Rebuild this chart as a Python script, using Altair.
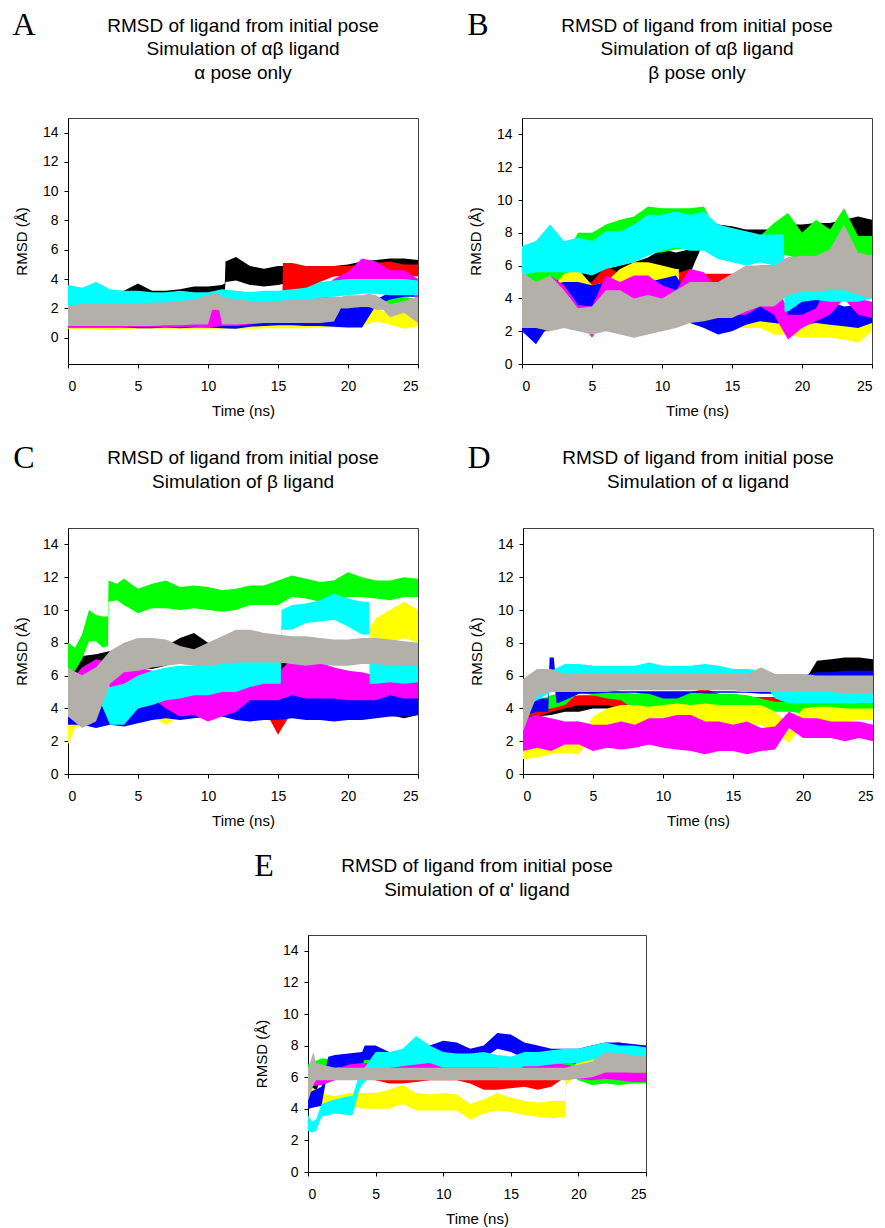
import altair as alt
import pandas as pd

TIME = [0, 1, 2, 3, 4, 5, 6, 7, 8, 9, 10, 11, 12, 13, 14, 15, 16, 17, 18, 19, 20, 21, 22, 23, 24, 25]
X_TICKS = [0, 5, 10, 15, 20, 25]
Y_TICKS = [0, 2, 4, 6, 8, 10, 12, 14]
ORDER = ["black", "red", "green", "yellow", "blue", "magenta", "cyan", "gray"]
COLORS = {"black": "#000000", "red": "#FF0000", "green": "#00FF00", "yellow": "#FFFF00",
          "blue": "#0000FF", "magenta": "#FF00FF", "cyan": "#00FFFF", "gray": "#B2B0A8"}
FONT = "Liberation Sans"

# ---------------- Panel A : lower / upper envelope of each trajectory ----------------
A_black_t = [0, 1, 2, 3, 4, 5, 6, 7, 8, 9, 10, 11, 11.2, 11.25, 12, 13, 14, 15, 16, 17, 18, 19, 20, 21, 22, 23, 24, 25]
A_black_lo = [2.6, 2.6, 2.6, 2.7, 2.8, 2.9, 2.9, 2.9, 2.9, 3.0, 3.0, 3.1, 3.2, 3.8, 3.9, 3.6, 3.5, 3.6, 3.8, 3.9, 4.0, 4.2, 4.3, 4.4, 4.5, 4.5, 4.5, 4.4]
A_black_hi = [3.1, 3.1, 3.1, 3.1, 3.2, 3.7, 3.2, 3.2, 3.3, 3.5, 3.5, 3.6, 3.7, 5.2, 5.5, 4.9, 4.7, 4.9, 4.9, 4.9, 4.8, 4.9, 5.0, 5.2, 5.3, 5.4, 5.4, 5.3]
A_red_t = [0, 1, 2, 3, 4, 5, 6, 7, 8, 9, 10, 11, 12, 13, 14, 15, 15.3, 15.35, 16, 17, 18, 19, 20, 21, 22, 23, 24, 25]
A_red_lo = [0.65, 0.65, 0.7, 0.65, 0.65, 0.7, 0.7, 0.7, 0.7, 0.7, 0.7, 0.75, 0.75, 0.8, 0.8, 0.8, 0.8, 3.0, 3.2, 3.3, 3.8, 4.2, 4.2, 4.3, 4.3, 4.3, 4.2, 4.2]
A_red_hi = [1.5, 1.5, 1.5, 1.5, 1.5, 1.5, 1.5, 1.5, 1.5, 1.6, 1.6, 1.6, 1.6, 1.7, 1.7, 1.7, 1.7, 5.1, 5.1, 4.9, 4.9, 4.9, 4.9, 5.0, 5.1, 5.2, 5.0, 5.0]
A_green_lo = [1.2, 1.2, 1.3, 1.3, 1.3, 1.3, 1.3, 1.3, 1.3, 1.3, 1.3, 1.3, 1.3, 1.3, 1.3, 1.3, 1.4, 1.4, 1.5, 1.6, 1.7, 1.8, 1.9, 2.0, 2.0, 1.8]
A_green_hi = [2.0, 2.0, 2.2, 2.2, 2.2, 2.2, 2.2, 2.2, 2.2, 2.2, 2.2, 2.2, 2.2, 2.2, 2.2, 2.2, 2.3, 2.4, 2.5, 2.6, 2.7, 2.8, 2.6, 2.9, 2.8, 2.6]
A_yellow_lo = [0.6, 0.6, 0.55, 0.5, 0.55, 0.6, 0.6, 0.6, 0.6, 0.6, 0.6, 0.6, 0.6, 0.6, 0.65, 0.65, 0.65, 0.65, 0.7, 0.7, 0.7, 0.8, 1.1, 0.9, 0.6, 0.8]
A_yellow_hi = [1.2, 1.2, 1.2, 1.2, 1.2, 1.2, 1.2, 1.2, 1.2, 1.2, 1.2, 1.2, 1.2, 1.2, 1.2, 1.2, 1.2, 1.2, 1.2, 1.2, 1.3, 1.5, 2.0, 1.6, 1.8, 1.4]
A_blue_lo = [0.7, 0.7, 0.7, 0.7, 0.7, 0.65, 0.65, 0.7, 0.65, 0.7, 0.7, 0.65, 0.6, 0.75, 0.8, 0.85, 0.85, 0.8, 0.8, 0.75, 0.7, 0.7, 2.2, 2.6, 2.8, 2.8]
A_blue_hi = [1.1, 1.1, 1.1, 1.1, 1.1, 1.2, 1.2, 1.1, 1.2, 1.1, 1.1, 1.1, 1.1, 1.5, 1.4, 1.3, 1.3, 1.3, 1.3, 2.0, 2.0, 2.2, 2.6, 3.1, 3.6, 3.3]
A_magenta_lo = [0.7, 0.7, 0.7, 0.7, 0.7, 0.7, 0.7, 0.7, 0.7, 0.75, 0.7, 0.8, 0.8, 0.9, 1.0, 1.2, 1.5, 1.9, 2.3, 3.0, 3.5, 4.0, 4.0, 3.8, 3.8, 2.5]
A_magenta_hi = [1.3, 1.2, 1.2, 1.3, 1.3, 1.2, 1.2, 1.2, 1.3, 1.4, 2.0, 1.8, 1.3, 1.5, 1.5, 1.8, 2.2, 2.6, 3.2, 4.0, 4.5, 5.4, 5.2, 4.6, 4.6, 4.0]
A_cyan_lo = [2.0, 2.1, 2.1, 2.1, 2.1, 2.1, 2.1, 2.1, 2.1, 2.2, 2.2, 2.3, 2.3, 2.3, 2.3, 2.3, 2.4, 2.5, 2.7, 2.8, 2.9, 3.0, 3.0, 2.9, 2.9, 2.9]
A_cyan_hi = [3.6, 3.4, 3.8, 3.3, 3.2, 3.2, 3.1, 3.1, 3.2, 3.1, 3.1, 3.3, 3.2, 3.1, 3.2, 3.2, 3.3, 3.4, 3.8, 3.9, 4.0, 4.0, 4.0, 4.0, 4.0, 3.9]
A_gray_t = [0, 1, 2, 3, 4, 5, 6, 7, 8, 9, 10, 10.3, 10.8, 11, 12, 13, 14, 15, 16, 17, 18, 19, 19.5, 20, 21, 21.5, 22, 22.5, 23, 24, 25]
A_gray_lo = [0.8, 0.8, 0.8, 0.8, 0.8, 0.8, 0.8, 0.85, 0.85, 0.9, 0.9, 1.9, 1.9, 0.9, 0.9, 0.95, 1.0, 1.0, 1.0, 1.0, 1.0, 1.1, 2.0, 2.0, 2.1, 2.1, 1.9, 1.9, 1.4, 1.7, 1.0]
A_gray_hi = [2.2, 2.3, 2.3, 2.3, 2.3, 2.3, 2.4, 2.4, 2.5, 2.6, 2.9, 3.0, 3.0, 2.8, 2.6, 2.5, 2.5, 2.5, 2.6, 2.6, 2.7, 2.8, 2.8, 2.9, 2.9, 3.0, 2.9, 2.6, 2.3, 2.5, 2.8]

# ---------------- Panel B ----------------
B_black_lo = [2.0, 1.5, 3.0, 4.5, 4.5, 4.8, 5.0, 5.2, 5.0, 5.0, 4.8, 4.8, 5.5, 7.5, 7.6, 7.6, 7.6, 7.5, 7.5, 7.0, 7.0, 7.2, 7.5, 7.5, 7.8, 7.8]
B_black_hi = [3.0, 3.0, 5.0, 5.6, 5.5, 5.6, 5.8, 6.0, 6.2, 6.5, 7.0, 6.8, 7.0, 8.4, 8.5, 8.4, 8.2, 8.2, 8.2, 8.5, 8.5, 8.6, 8.6, 8.8, 9.0, 8.8]
B_red_lo = [2.2, 2.0, 2.0, 3.0, 3.5, 4.0, 4.8, 4.5, 4.5, 4.5, 4.5, 4.0, 4.5, 4.5, 4.5, 4.5, 5.0, 5.2, 5.2, 5.5, 5.5, 5.0, 5.0, 5.0, 5.5, 5.5]
B_red_hi = [3.5, 3.0, 3.0, 4.5, 4.8, 5.0, 6.0, 5.5, 5.5, 5.5, 5.5, 5.5, 5.8, 5.5, 5.5, 5.5, 5.8, 6.0, 6.0, 6.5, 6.4, 6.0, 6.2, 6.5, 6.5, 6.5]
B_green_lo = [4.5, 4.8, 5.0, 5.2, 5.8, 6.0, 6.2, 6.5, 6.5, 6.8, 6.8, 7.0, 7.0, 7.0, 7.0, 7.0, 7.0, 7.0, 6.8, 6.6, 6.4, 6.5, 6.8, 6.8, 6.6, 6.6]
B_green_hi = [6.0, 6.2, 6.6, 6.5, 8.0, 8.0, 8.5, 8.8, 9.0, 9.6, 9.5, 9.5, 9.5, 9.6, 7.9, 7.8, 7.8, 7.8, 8.6, 9.2, 8.0, 8.8, 8.2, 9.5, 7.8, 7.8]
B_yellow_t = [0, 1, 2, 3, 4, 5, 6, 7, 8, 9, 10, 11, 11.2, 11.25, 12, 13, 14, 15, 16, 17, 18, 19, 20, 21, 22, 23, 24, 25]
B_yellow_lo = [2.5, 2.5, 3.0, 4.0, 4.5, 4.0, 4.3, 4.6, 4.6, 4.6, 4.6, 4.5, 4.5, 2.8, 2.8, 2.5, 2.2, 2.2, 2.2, 2.2, 1.8, 1.8, 1.6, 1.6, 1.6, 1.5, 1.3, 2.0]
B_yellow_hi = [3.5, 3.5, 4.5, 5.5, 5.8, 4.8, 5.0, 5.8, 6.2, 6.2, 6.0, 5.8, 5.8, 3.8, 3.8, 3.5, 3.2, 3.0, 3.0, 3.0, 2.8, 2.8, 2.8, 3.0, 2.8, 2.6, 2.6, 2.6]
B_blue_lo = [2.0, 1.2, 2.5, 3.5, 3.4, 3.4, 3.8, 3.8, 3.8, 4.0, 4.2, 4.2, 2.5, 2.2, 1.8, 2.0, 2.4, 2.6, 2.5, 2.4, 2.4, 2.5, 2.4, 2.3, 2.2, 2.5]
B_blue_hi = [3.0, 3.5, 4.8, 5.0, 5.0, 4.8, 5.0, 5.0, 5.0, 5.0, 5.2, 5.4, 4.0, 3.8, 3.8, 3.8, 3.8, 3.6, 3.5, 3.8, 4.0, 4.0, 3.8, 3.5, 3.6, 3.5]
B_magenta_lo = [2.4, 2.4, 2.6, 3.0, 2.8, 1.6, 3.0, 3.0, 3.0, 3.0, 3.2, 3.5, 3.5, 3.8, 3.5, 3.0, 3.0, 3.5, 3.0, 1.5, 2.2, 2.6, 3.0, 4.0, 3.0, 2.8]
B_magenta_hi = [3.6, 4.5, 5.4, 4.8, 3.6, 3.5, 5.4, 5.0, 5.4, 5.4, 4.8, 4.5, 5.8, 5.6, 4.5, 4.0, 3.8, 5.5, 5.8, 3.0, 3.0, 3.4, 5.0, 6.2, 4.0, 3.8]
B_cyan_t = [0, 1, 2, 3, 4, 5, 6, 7, 8, 9, 10, 11, 12, 13, 14, 15, 16, 17, 18, 18.7, 18.75, 19, 20, 21, 22, 23, 24, 25]
B_cyan_lo = [5.4, 5.6, 5.6, 5.6, 5.6, 5.4, 5.8, 6.0, 6.2, 6.6, 6.9, 7.1, 6.9, 6.9, 6.4, 6.2, 6.0, 6.2, 6.0, 6.0, 3.2, 3.2, 3.8, 3.9, 3.8, 3.8, 3.8, 4.0]
B_cyan_hi = [7.2, 7.5, 8.5, 7.5, 7.7, 7.5, 8.1, 8.1, 8.5, 9.1, 9.1, 9.3, 9.1, 9.3, 8.5, 8.3, 8.1, 7.9, 7.9, 7.9, 5.4, 5.4, 5.6, 5.0, 5.2, 5.8, 5.4, 6.4]
B_gray_lo = [2.2, 2.2, 2.0, 2.2, 2.0, 1.8, 2.0, 1.8, 1.6, 1.8, 2.0, 2.2, 2.5, 2.6, 2.8, 2.8, 3.2, 3.5, 3.5, 4.2, 4.4, 4.4, 4.5, 4.5, 4.2, 4.0]
B_gray_hi = [5.6, 5.0, 5.4, 4.5, 3.4, 3.5, 4.5, 4.5, 4.0, 4.2, 4.0, 4.5, 5.0, 5.0, 5.0, 5.5, 6.0, 6.0, 6.0, 6.5, 6.6, 6.6, 7.0, 8.5, 6.8, 6.6]

# ---------------- Panel C ----------------
C_black_lo = [6.0, 6.2, 6.3, 6.5, 6.5, 6.5, 6.4, 6.6, 7.0, 7.4, 7.0, 6.6, 6.6, 6.5, 6.5, 6.2, 5.5, 4.5, 4.0, 3.4, 3.4, 3.6, 3.6, 3.6, 3.4, 3.6]
C_black_hi = [7.0, 7.2, 7.3, 7.5, 7.6, 7.7, 7.8, 7.8, 8.3, 8.6, 8.0, 7.8, 7.8, 7.6, 7.5, 7.2, 6.8, 6.0, 5.0, 4.5, 4.5, 4.6, 4.6, 4.6, 4.2, 4.4]
C_red_lo = [4.0, 4.0, 4.0, 4.0, 4.0, 4.0, 4.0, 4.0, 4.0, 4.0, 4.0, 4.0, 4.0, 4.0, 4.0, 2.4, 3.8, 4.0, 4.0, 4.0, 4.0, 4.0, 4.0, 4.0, 4.0, 4.0]
C_red_hi = [5.5, 5.5, 5.5, 5.5, 5.5, 5.5, 5.5, 5.5, 5.5, 5.5, 5.5, 5.5, 5.5, 5.5, 5.5, 3.6, 4.8, 5.5, 5.5, 5.5, 5.5, 5.5, 5.5, 5.5, 5.5, 5.5]
C_green_t = [0, 0.5, 1, 1.5, 2, 2.5, 2.85, 2.9, 3.5, 4, 5, 6, 7, 8, 9, 10, 11, 12, 13, 14, 15, 16, 17, 18, 19, 20, 21, 22, 23, 24, 25]
C_green_lo = [6.3, 6.3, 7.0, 8.1, 8.1, 7.7, 7.8, 10.5, 10.6, 10.3, 9.8, 10.1, 10.1, 10.0, 10.1, 10.0, 9.9, 10.0, 10.3, 10.3, 10.3, 10.8, 10.7, 10.5, 10.6, 10.8, 10.8, 10.7, 10.6, 10.8, 10.8]
C_green_hi = [8.0, 7.7, 8.5, 10.0, 9.7, 9.6, 9.6, 11.8, 11.6, 11.9, 11.3, 11.6, 11.8, 11.4, 11.5, 11.4, 11.2, 11.3, 11.5, 11.5, 11.8, 12.1, 11.9, 11.7, 11.8, 12.3, 12.0, 11.8, 11.8, 12.0, 11.9]
C_yellow_t = [0, 0.5, 1, 2, 3, 4, 5, 6, 7, 8, 9, 10, 11, 12, 13, 14, 15, 16, 17, 18, 19, 20, 21, 21.55, 21.6, 22, 23, 24, 25]
C_yellow_lo = [1.8, 2.8, 3.0, 3.5, 3.5, 3.5, 3.5, 3.5, 3.0, 3.5, 3.5, 3.5, 3.5, 3.5, 3.5, 3.5, 3.5, 3.5, 3.5, 3.5, 3.5, 3.4, 4.5, 4.8, 7.5, 8.0, 8.0, 8.3, 8.0]
C_yellow_hi = [3.5, 3.8, 4.0, 4.5, 4.5, 4.5, 4.5, 4.5, 3.9, 4.5, 4.5, 4.5, 4.5, 4.5, 4.5, 4.5, 4.5, 4.5, 4.5, 4.5, 4.5, 4.6, 5.5, 5.8, 9.0, 9.5, 10.0, 10.5, 10.0]
C_blue_lo = [3.0, 3.0, 2.8, 3.0, 2.9, 3.1, 3.3, 3.4, 3.3, 3.4, 3.5, 3.5, 3.3, 3.2, 3.3, 3.3, 3.4, 3.3, 3.3, 3.2, 3.3, 3.3, 3.4, 3.5, 3.5, 3.6]
C_blue_hi = [4.0, 4.0, 4.0, 4.5, 4.5, 4.6, 4.6, 4.8, 4.8, 4.9, 5.0, 5.5, 5.2, 5.3, 5.3, 5.5, 5.0, 5.2, 5.0, 5.5, 5.8, 5.3, 5.0, 5.3, 5.5, 5.4]
C_magenta_lo = [4.5, 4.8, 5.0, 4.0, 4.5, 4.5, 4.6, 4.0, 3.5, 3.6, 3.2, 3.5, 3.8, 4.5, 4.5, 4.5, 4.8, 4.6, 4.6, 4.6, 4.5, 4.5, 4.5, 4.8, 4.6, 4.6]
C_magenta_hi = [5.5, 6.5, 7.0, 6.8, 6.8, 6.5, 6.3, 5.5, 5.0, 5.0, 5.0, 5.0, 5.0, 6.0, 6.0, 6.2, 7.0, 7.2, 6.8, 6.5, 6.3, 6.2, 6.0, 6.0, 6.0, 5.8]
C_cyan_t = [0, 1, 2, 3, 4, 5, 6, 7, 8, 9, 10, 11, 12, 13, 14, 15, 15.2, 15.25, 16, 17, 18, 19, 20, 21, 21.5, 21.55, 22, 23, 24, 25]
C_cyan_lo = [4.3, 4.5, 5.0, 3.0, 3.0, 4.0, 4.2, 4.5, 4.6, 4.8, 4.8, 5.0, 5.0, 5.3, 5.5, 5.5, 5.5, 8.8, 8.8, 9.2, 9.3, 9.4, 9.0, 8.5, 8.5, 5.5, 5.5, 5.6, 5.5, 5.6]
C_cyan_hi = [6.3, 6.0, 6.5, 5.3, 5.5, 6.0, 6.3, 6.5, 6.6, 6.6, 6.8, 7.0, 7.0, 7.2, 7.2, 7.5, 7.5, 10.0, 10.3, 10.4, 10.6, 11.0, 10.7, 10.5, 10.5, 7.2, 7.2, 7.0, 7.0, 7.0]
C_gray_lo = [3.5, 2.8, 3.2, 5.5, 6.2, 6.3, 6.5, 6.6, 6.7, 6.6, 6.6, 6.7, 6.8, 6.8, 6.8, 6.8, 6.7, 6.6, 6.7, 6.6, 6.6, 6.7, 6.7, 6.6, 6.6, 6.6]
C_gray_hi = [6.5, 6.0, 6.5, 7.5, 8.0, 8.3, 8.3, 8.2, 7.8, 7.6, 8.0, 8.4, 8.8, 8.8, 8.6, 8.5, 8.4, 8.4, 8.3, 8.2, 8.2, 8.3, 8.3, 8.2, 8.1, 8.0]

# ---------------- Panel D ----------------
D_black_lo = [3.3, 3.5, 3.6, 3.8, 3.8, 4.0, 4.0, 3.3, 4.0, 4.0, 4.0, 4.0, 4.0, 4.0, 4.0, 4.0, 4.0, 4.0, 4.0, 4.0, 4.5, 6.0, 6.0, 6.0, 6.1, 6.1]
D_black_hi = [4.0, 4.0, 4.4, 4.5, 4.6, 4.5, 4.5, 4.3, 4.5, 4.5, 4.5, 4.5, 4.5, 4.5, 4.5, 4.5, 4.5, 4.5, 4.5, 4.5, 5.5, 6.9, 7.0, 7.1, 7.1, 7.0]
D_red_lo = [3.5, 3.5, 3.8, 4.0, 4.2, 4.2, 4.2, 4.0, 4.2, 4.3, 4.3, 4.4, 4.5, 4.6, 4.4, 4.3, 4.2, 4.2, 4.2, 4.2, 4.2, 4.2, 4.2, 4.2, 4.2, 4.2]
D_red_hi = [4.0, 4.0, 4.5, 4.7, 4.8, 4.8, 4.9, 4.6, 4.7, 4.8, 4.8, 4.9, 5.0, 5.2, 4.9, 4.8, 4.7, 4.7, 4.7, 4.7, 4.7, 4.7, 4.7, 4.7, 4.7, 4.7]
D_green_lo = [3.5, 3.8, 4.0, 4.2, 5.0, 4.8, 4.6, 4.5, 3.9, 3.9, 3.9, 3.9, 4.0, 3.9, 3.9, 3.9, 3.9, 3.8, 3.8, 3.8, 3.7, 3.7, 3.6, 3.7, 3.6, 3.7]
D_green_hi = [4.2, 4.5, 4.8, 5.0, 5.1, 5.1, 5.1, 5.0, 4.9, 5.0, 5.0, 4.9, 5.0, 4.9, 4.9, 4.9, 4.8, 4.6, 4.4, 4.4, 4.4, 4.4, 4.4, 4.4, 4.3, 4.3]
D_yellow_lo = [0.9, 1.0, 1.2, 1.3, 1.2, 2.5, 2.8, 3.0, 3.0, 2.9, 3.0, 3.0, 2.9, 3.0, 2.9, 2.9, 3.0, 3.0, 2.5, 1.9, 3.0, 3.2, 3.2, 3.2, 3.3, 3.3]
D_yellow_hi = [2.2, 2.2, 2.2, 2.3, 2.2, 3.5, 4.0, 4.2, 4.2, 4.1, 4.2, 4.3, 4.2, 4.3, 4.2, 4.2, 4.2, 4.2, 3.8, 3.0, 4.0, 4.1, 4.1, 4.0, 4.0, 4.0]
D_blue_t = [0, 1, 1.8, 1.9, 2.2, 2.4, 3, 4, 5, 6, 7, 8, 9, 10, 11, 12, 13, 14, 15, 16, 17, 18, 19, 20, 21, 22, 23, 24, 25]
D_blue_lo = [3.5, 3.8, 3.8, 5.9, 5.9, 4.3, 4.5, 4.9, 4.9, 4.95, 4.95, 4.95, 4.9, 4.6, 4.6, 4.95, 4.95, 4.95, 4.95, 4.95, 4.9, 4.9, 4.9, 5.3, 5.6, 5.6, 5.6, 5.6, 5.6]
D_blue_hi = [4.5, 4.6, 4.6, 7.1, 7.1, 5.2, 5.2, 5.0, 5.0, 5.05, 5.05, 5.05, 5.05, 5.05, 5.05, 5.05, 5.05, 5.05, 5.05, 5.0, 5.0, 5.0, 5.0, 6.0, 6.2, 6.2, 6.3, 6.3, 6.3]
D_magenta_lo = [1.4, 1.6, 1.4, 1.8, 1.8, 1.4, 1.6, 1.5, 1.6, 1.8, 1.6, 1.5, 1.4, 1.2, 1.4, 1.4, 1.2, 1.4, 1.5, 2.8, 2.2, 2.2, 2.2, 2.0, 2.2, 2.0]
D_magenta_hi = [3.4, 3.6, 3.4, 3.2, 3.2, 3.0, 3.0, 3.2, 3.0, 3.4, 3.4, 3.6, 3.6, 3.2, 3.2, 3.0, 3.2, 2.8, 2.9, 3.8, 3.4, 3.4, 3.2, 3.2, 3.2, 3.0]
D_cyan_lo = [4.0, 4.5, 5.0, 5.8, 5.8, 5.8, 5.8, 5.9, 6.0, 6.0, 6.0, 6.0, 6.0, 6.0, 6.0, 5.8, 5.8, 5.8, 4.6, 4.3, 4.3, 4.3, 4.3, 4.3, 4.3, 4.3]
D_cyan_hi = [5.5, 6.0, 6.3, 6.7, 6.7, 6.6, 6.6, 6.6, 6.6, 6.8, 6.6, 6.6, 6.6, 6.7, 6.6, 6.4, 6.4, 6.3, 5.8, 5.2, 5.2, 5.2, 5.2, 5.0, 5.1, 5.2]
D_gray_lo = [2.6, 4.8, 5.0, 5.0, 5.0, 5.0, 5.0, 5.1, 5.1, 5.1, 5.1, 5.1, 5.1, 5.1, 5.1, 5.1, 5.0, 5.0, 5.0, 5.0, 5.0, 5.0, 5.0, 4.9, 4.9, 4.9]
D_gray_hi = [5.8, 6.4, 6.4, 6.1, 6.1, 6.1, 6.1, 6.1, 6.1, 6.1, 6.1, 6.1, 6.1, 6.1, 6.1, 6.1, 6.1, 6.5, 6.1, 6.1, 6.1, 6.0, 6.0, 6.0, 6.0, 6.0]

# ---------------- Panel E ----------------
E_black_lo = [3.8, 6.0, 6.5, 6.5, 6.5, 6.5, 6.5, 6.5, 6.5, 6.5, 6.5, 6.5, 6.5, 6.5, 6.5, 6.6, 6.6, 6.6, 6.5, 6.5, 6.5, 6.5, 6.6, 6.6, 6.6, 6.6]
E_black_hi = [5.0, 7.0, 7.2, 7.2, 7.2, 7.2, 7.2, 7.2, 7.2, 7.2, 7.2, 7.2, 7.2, 7.2, 7.2, 7.2, 7.2, 7.2, 7.2, 7.2, 7.2, 7.2, 7.3, 7.3, 7.3, 7.3]
E_red_lo = [5.2, 6.0, 6.2, 6.2, 6.0, 5.8, 5.6, 5.6, 5.7, 5.8, 5.8, 5.8, 5.6, 5.2, 5.2, 5.3, 5.4, 5.2, 5.4, 6.0, 6.8, 7.0, 7.2, 7.3, 7.2, 7.2]
E_red_hi = [6.2, 7.0, 7.2, 7.2, 7.0, 6.6, 6.4, 6.4, 6.5, 6.5, 6.6, 6.5, 6.3, 6.0, 6.0, 6.0, 6.1, 6.0, 6.2, 6.8, 7.5, 7.8, 8.1, 8.2, 8.0, 8.0]
E_green_lo = [5.8, 6.3, 6.4, 6.4, 6.4, 6.4, 6.4, 6.4, 6.4, 6.4, 6.4, 6.4, 6.4, 6.4, 6.4, 6.4, 6.4, 6.4, 6.4, 6.3, 5.8, 5.5, 5.6, 5.5, 5.6, 5.6]
E_green_hi = [6.8, 7.2, 7.1, 7.1, 7.1, 7.1, 7.1, 7.1, 7.1, 7.1, 7.1, 7.1, 7.1, 7.1, 6.9, 6.9, 6.9, 6.9, 6.9, 7.0, 6.8, 6.5, 6.5, 6.4, 6.4, 6.4]
E_yellow_t = [0, 1, 2, 3, 4, 5, 6, 7, 8, 9, 10, 11, 12, 13, 14, 15, 16, 17, 18, 19, 19.05, 20, 21, 22, 23, 24, 25]
E_yellow_lo = [4.5, 4.3, 4.2, 4.2, 4.0, 4.0, 4.0, 4.3, 3.9, 3.9, 3.9, 3.9, 3.3, 3.7, 3.9, 3.8, 3.6, 3.5, 3.4, 3.5, 5.5, 6.2, 6.5, 6.5, 6.3, 6.3, 6.3]
E_yellow_hi = [5.5, 5.0, 4.8, 5.0, 5.0, 5.0, 5.2, 5.5, 5.0, 4.9, 5.0, 4.9, 4.3, 4.6, 5.0, 4.7, 4.5, 4.4, 4.5, 4.5, 6.2, 7.0, 7.2, 7.2, 7.0, 7.0, 7.0]
E_blue_t = [0, 1, 1.5, 2, 3, 4, 4.2, 5, 6, 7, 8, 9, 10, 11, 12, 13, 14, 15, 16, 17, 18, 19, 20, 21, 22, 23, 24, 25]
E_blue_lo = [4.0, 4.2, 6.6, 6.6, 6.7, 6.7, 7.2, 7.0, 6.5, 6.6, 6.8, 7.0, 7.5, 7.3, 7.0, 7.2, 7.8, 7.6, 7.2, 7.0, 7.0, 7.0, 7.1, 7.2, 7.3, 7.4, 7.3, 7.3]
E_blue_hi = [5.0, 5.4, 7.3, 7.4, 7.5, 7.6, 8.0, 8.0, 7.6, 7.5, 7.8, 8.0, 8.3, 8.2, 7.8, 8.0, 8.8, 8.7, 8.2, 8.0, 7.8, 7.8, 7.8, 8.0, 8.2, 8.2, 8.1, 8.0]
E_magenta_lo = [5.4, 5.5, 5.8, 6.0, 6.0, 6.1, 6.1, 6.2, 6.2, 6.2, 6.2, 6.3, 6.3, 6.3, 6.3, 6.2, 6.2, 6.2, 6.2, 6.1, 5.9, 5.8, 5.9, 5.8, 5.7, 5.7]
E_magenta_hi = [6.5, 6.4, 6.5, 6.8, 6.9, 6.9, 6.9, 7.0, 7.0, 7.0, 7.0, 7.1, 7.2, 7.1, 7.0, 6.9, 6.9, 6.9, 6.9, 6.8, 6.6, 6.5, 6.5, 6.4, 6.3, 6.3]
E_cyan_t = [0, 0.3, 0.6, 1, 2, 3, 3.3, 3.8, 4, 5, 6, 7, 8, 9, 10, 11, 12, 13, 14, 15, 16, 17, 18, 19, 20, 21, 22, 23, 24, 25]
E_cyan_lo = [2.6, 2.5, 2.6, 3.5, 3.7, 3.6, 3.6, 5.2, 5.5, 6.4, 6.6, 6.7, 6.8, 6.9, 6.6, 6.6, 6.6, 6.6, 6.6, 6.3, 6.7, 6.7, 6.8, 6.9, 6.9, 7.1, 7.2, 7.2, 7.2, 7.2]
E_cyan_hi = [3.6, 3.2, 3.3, 4.3, 4.6, 4.8, 4.8, 6.2, 6.4, 7.6, 7.6, 7.8, 8.6, 8.0, 7.6, 7.5, 7.5, 7.6, 7.4, 7.3, 7.6, 7.6, 7.7, 7.8, 7.8, 8.0, 8.2, 8.0, 8.0, 7.9]
E_gray_t = [0, 0.4, 0.6, 1, 2, 3, 4, 5, 6, 7, 8, 9, 10, 11, 12, 13, 14, 15, 16, 17, 18, 19, 20, 21, 22, 23, 24, 25]
E_gray_lo = [4.5, 5.5, 5.8, 5.8, 5.8, 5.8, 5.8, 5.8, 5.8, 5.8, 5.8, 5.8, 5.8, 5.8, 5.8, 5.8, 5.8, 5.8, 5.8, 5.8, 5.8, 5.8, 5.9, 6.0, 6.3, 6.3, 6.3, 6.3]
E_gray_hi = [6.5, 7.6, 6.9, 6.8, 6.6, 6.6, 6.6, 6.6, 6.6, 6.6, 6.6, 6.6, 6.6, 6.6, 6.6, 6.6, 6.6, 6.6, 6.6, 6.6, 6.6, 6.6, 6.8, 7.0, 7.6, 7.5, 7.4, 7.3]

PANEL_A = {"black": (A_black_t, A_black_lo, A_black_hi), "red": (A_red_t, A_red_lo, A_red_hi),
           "green": (TIME, A_green_lo, A_green_hi), "yellow": (TIME, A_yellow_lo, A_yellow_hi),
           "blue": (TIME, A_blue_lo, A_blue_hi), "magenta": (TIME, A_magenta_lo, A_magenta_hi),
           "cyan": (TIME, A_cyan_lo, A_cyan_hi), "gray": (A_gray_t, A_gray_lo, A_gray_hi)}
PANEL_B = {"black": (TIME, B_black_lo, B_black_hi), "red": (TIME, B_red_lo, B_red_hi),
           "green": (TIME, B_green_lo, B_green_hi), "yellow": (B_yellow_t, B_yellow_lo, B_yellow_hi),
           "blue": (TIME, B_blue_lo, B_blue_hi), "magenta": (TIME, B_magenta_lo, B_magenta_hi),
           "cyan": (B_cyan_t, B_cyan_lo, B_cyan_hi), "gray": (TIME, B_gray_lo, B_gray_hi)}
PANEL_C = {"black": (TIME, C_black_lo, C_black_hi), "red": (TIME, C_red_lo, C_red_hi),
           "green": (C_green_t, C_green_lo, C_green_hi), "yellow": (C_yellow_t, C_yellow_lo, C_yellow_hi),
           "blue": (TIME, C_blue_lo, C_blue_hi), "magenta": (TIME, C_magenta_lo, C_magenta_hi),
           "cyan": (C_cyan_t, C_cyan_lo, C_cyan_hi), "gray": (TIME, C_gray_lo, C_gray_hi)}
PANEL_D = {"black": (TIME, D_black_lo, D_black_hi), "red": (TIME, D_red_lo, D_red_hi),
           "green": (TIME, D_green_lo, D_green_hi), "yellow": (TIME, D_yellow_lo, D_yellow_hi),
           "blue": (D_blue_t, D_blue_lo, D_blue_hi), "magenta": (TIME, D_magenta_lo, D_magenta_hi),
           "cyan": (TIME, D_cyan_lo, D_cyan_hi), "gray": (TIME, D_gray_lo, D_gray_hi)}
PANEL_E = {"black": (TIME, E_black_lo, E_black_hi), "red": (TIME, E_red_lo, E_red_hi),
           "green": (TIME, E_green_lo, E_green_hi), "yellow": (E_yellow_t, E_yellow_lo, E_yellow_hi),
           "blue": (E_blue_t, E_blue_lo, E_blue_hi), "magenta": (TIME, E_magenta_lo, E_magenta_hi),
           "cyan": (E_cyan_t, E_cyan_lo, E_cyan_hi), "gray": (E_gray_t, E_gray_lo, E_gray_hi)}

TITLE_TOP = "RMSD of ligand from initial pose"
TITLES_A = [TITLE_TOP, "Simulation of αβ ligand", "α pose only"]
TITLES_B = [TITLE_TOP, "Simulation of αβ ligand", "β pose only"]
TITLES_C = [TITLE_TOP, "Simulation of β ligand"]
TITLES_D = [TITLE_TOP, "Simulation of α ligand"]
TITLES_E = [TITLE_TOP, "Simulation of α' ligand"]


def make_panel(data, ydomain, width, height, lines, letter, top_y):
    xs = alt.Scale(domain=[0, 25], nice=False, zero=False)
    ys = alt.Scale(domain=ydomain, nice=False, zero=False)
    xaxis = alt.Axis(values=X_TICKS, title="Time (ns)", grid=False, tickSize=4,
                     labelPadding=11, titlePadding=10)
    yaxis = alt.Axis(values=Y_TICKS, title="RMSD (Å)", grid=False, tickSize=4,
                     labelPadding=6, titlePadding=13)
    layers = []
    for name in ORDER:
        t, lo, hi = data[name]
        df = pd.DataFrame({"t": t, "lo": lo, "hi": hi})
        layers.append(
            alt.Chart(df).mark_area(color=COLORS[name], opacity=1, interpolate="linear").encode(
                x=alt.X("t:Q", scale=xs, axis=xaxis),
                y=alt.Y("lo:Q", scale=ys, axis=yaxis),
                y2=alt.Y2("hi:Q"),
            )
        )
    # panel letter
    layers.append(
        alt.Chart(pd.DataFrame({"s": [letter]})).mark_text(
            font="Liberation Serif", fontSize=32, align="center", baseline="middle", color="black"
        ).encode(text="s:N", x=alt.value(-44), y=alt.value(top_y - 0.5))
    )
    # panel title lines
    for i, line in enumerate(lines):
        layers.append(
            alt.Chart(pd.DataFrame({"s": [line]})).mark_text(
                font=FONT, fontSize=19, align="center", baseline="middle", color="black"
            ).encode(text="s:N", x=alt.value(width / 2), y=alt.value(top_y + 23.7 * i))
        )
    return alt.layer(*layers).properties(width=width, height=height)


pA = make_panel(PANEL_A, [-1.8, 15], 350, 246, TITLES_A, "A", -92.3)
pB = make_panel(PANEL_B, [0, 15], 350, 246, TITLES_B, "B", -92.3)
pC = make_panel(PANEL_C, [0, 15], 350, 246, TITLES_C, "C", -70)
pD = make_panel(PANEL_D, [0, 15], 350, 246, TITLES_D, "D", -70)
pE = make_panel(PANEL_E, [0, 15], 338, 237, TITLES_E, "E", -69)

spacer = alt.Chart(pd.DataFrame({"v": [0]})).mark_point(opacity=0).encode(
    x=alt.value(0), y=alt.value(0)
).properties(width=1, height=10, view=alt.ViewBackground(strokeOpacity=0))

row1 = alt.hconcat(pA, pB, spacing=47)
row2 = alt.hconcat(pC, pD, spacing=47)
row3 = alt.hconcat(spacer, pE, spacing=182)
top = alt.vconcat(row1, row2, spacing=22)
chart = alt.vconcat(top, row3, spacing=20).properties(
    padding={"left": 11, "top": 8, "right": 5, "bottom": 5}
).configure_view(stroke="#404040", strokeWidth=1).configure_axis(
    labelFont=FONT, titleFont=FONT, labelFontSize=14, titleFontSize=15,
    titleFontWeight="normal", labelColor="black", titleColor="black",
    domainColor="black", tickColor="black"
)

chart.save("out.html", embed_options={"renderer": "svg", "actions": False})
